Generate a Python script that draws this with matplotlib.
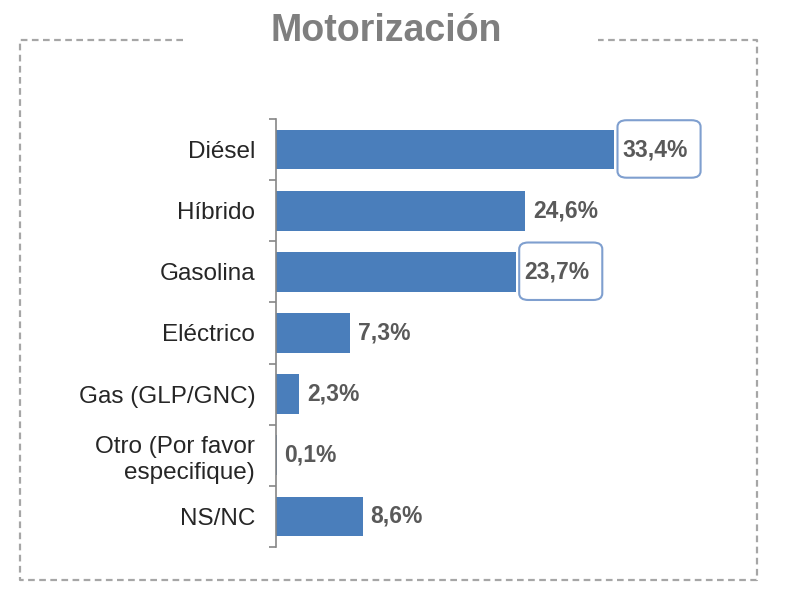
import matplotlib
matplotlib.use('Agg')
import matplotlib.pyplot as plt
from matplotlib.lines import Line2D
from matplotlib.patches import FancyBboxPatch

plt.rcParams['font.family'] = ['Liberation Sans', 'DejaVu Sans']

categories = ["Diésel", "Híbrido", "Gasolina", "Eléctrico", "Gas (GLP/GNC)",
              "Otro (Por favor\nespecifique)", "NS/NC"]
values = [33.4, 24.6, 23.7, 7.3, 2.3, 0.1, 8.6]
value_labels = ["33,4%", "24,6%", "23,7%", "7,3%", "2,3%", "0,1%", "8,6%"]
boxed = ["Diésel", "Gasolina"]

bar_color = "#4A7EBB"
label_color = "#595959"

fig = plt.figure(figsize=(8, 6.05), dpi=100)
ax = fig.add_axes([0.345, 0.0959, 0.57, 0.7074])

pos = list(range(len(categories)))
ax.barh(pos, values, height=0.65, color=bar_color, zorder=2)
ax.set_xlim(0, 45)
ax.set_ylim(len(categories) - 0.5, -0.5)

for i, (cat, v, lab) in enumerate(zip(categories, values, value_labels)):
    ax.text(v + 0.75, i, lab, ha='left', va='center', fontsize=16.5,
            fontweight='bold', color=label_color, zorder=4)
    if cat in boxed:
        box = FancyBboxPatch((v + 0.3, i - 0.48), 8.2, 0.94,
                             boxstyle='round,pad=0,rounding_size=0.9',
                             mutation_aspect=0.12,
                             fc='white', ec='#7F9FCF', lw=1.5, zorder=3,
                             clip_on=False)
        ax.add_patch(box)

ax.set_yticks(pos)
ax.set_yticklabels(categories, fontsize=17.5, color='#262626', linespacing=1.25)
ax.tick_params(axis='y', which='major', length=0, pad=15)
ax.set_yticks([p - 0.5 for p in pos] + [len(categories) - 0.5], minor=True)
ax.tick_params(axis='y', which='minor', length=5, color='#868686', width=1.2)
for lab in ax.get_yticklabels():
    lab.set_horizontalalignment('right')
ax.set_xticks([])

for s in ['top', 'right', 'bottom']:
    ax.spines[s].set_visible(False)
ax.spines['left'].set_color('#868686')
ax.spines['left'].set_linewidth(1.2)

# dashed frame with a gap for the title
W, H = 800, 605
frame_kw = dict(color='#A6A6A6', lw=1.6, linestyle=(0, (3, 2)), transform=fig.transFigure)
x0, x1, y0, y1 = 20 / W, 757 / W, 1 - 580 / H, 1 - 40 / H
fig.add_artist(Line2D([183 / W, x0, x0, x1, x1, 598 / W], [y1, y1, y0, y0, y1, y1], **frame_kw))

fig.text(386 / W, 1 - 31 / H, "Motorización", ha='center', va='center',
         fontsize=27, fontweight='bold', color='#7F7F7F')

fig.savefig('out.png', dpi=100)
